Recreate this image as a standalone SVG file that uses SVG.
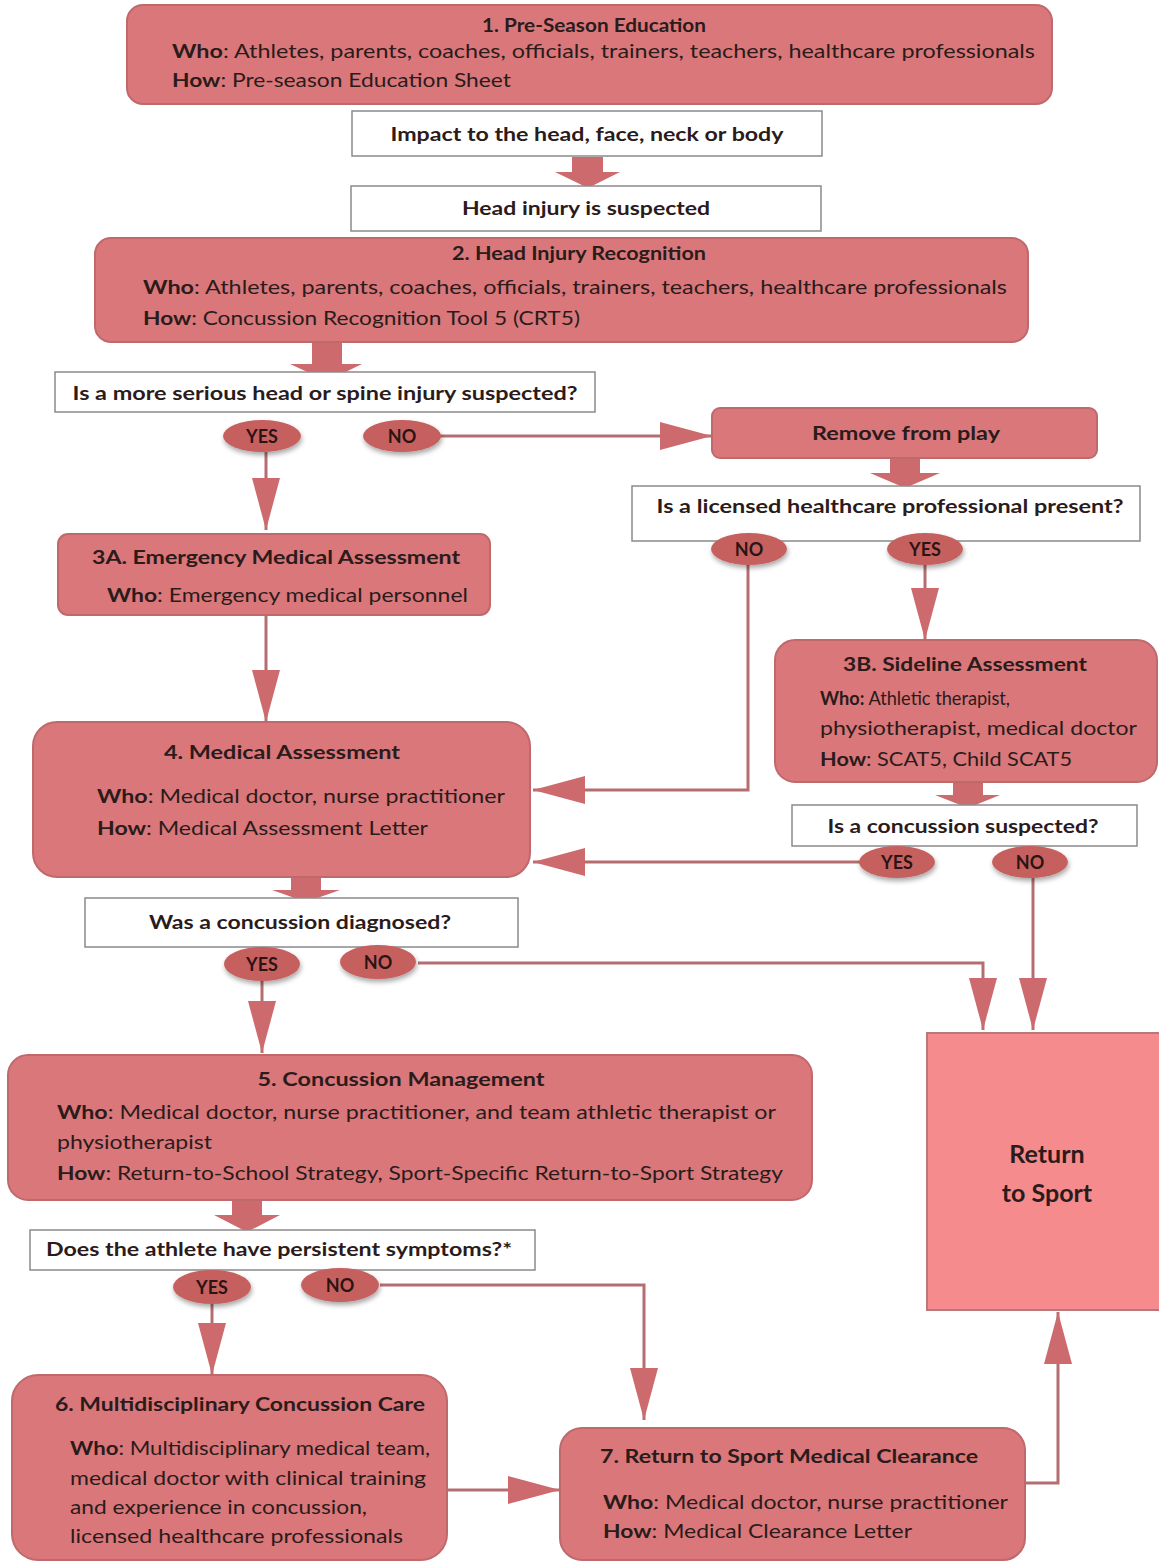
<svg xmlns="http://www.w3.org/2000/svg" width="1159" height="1564" viewBox="0 0 1159 1564">
<defs>
<style>
.box{fill:#d9777a;stroke:#c0696c;stroke-width:2}
.q{fill:#ffffff;stroke:#8a8a8a;stroke-width:1.5}
.rts{fill:#f58b8c;stroke:#b8777a;stroke-width:2}
.lab{fill:#c6605f;filter:url(#sh)}
.blk{fill:#cd6a6d}
.ln{fill:none;stroke:#b56e70;stroke-width:3;marker-end:url(#ah)}
text{font-family:Lato,"Open Sans","Noto Sans",sans-serif;fill:#2b1b1b;dominant-baseline:central}
.t{font-size:19px;font-weight:bold;text-anchor:middle}
.tl{font-size:19px;font-weight:bold}
.b{font-size:19px}
.yn{font-size:18px;font-weight:bold;text-anchor:middle;fill:#2b1414}
.big{font-size:25px;font-weight:bold;text-anchor:middle}
</style>
<marker id="ah" viewBox="0 0 52 28" refX="52" refY="14" markerWidth="52" markerHeight="28" markerUnits="userSpaceOnUse" orient="auto">
<path d="M0,0 L52,14 L0,28 z" fill="#cd6a6d"/>
</marker>
<filter id="sh" x="-30%" y="-40%" width="160%" height="190%">
<feDropShadow dx="1" dy="3" stdDeviation="2.5" flood-color="#000" flood-opacity="0.35"/>
</filter>
</defs>
<rect width="1159" height="1564" fill="#ffffff"/>

<g id="connectors">
<path class="ln" d="M440 436 H712"/>
<path class="ln" d="M266 452 V530"/>
<path class="ln" d="M266 615 V722"/>
<path class="ln" d="M748 565 V790 H533"/>
<path class="ln" d="M925 565 V640"/>
<path class="ln" d="M860 862 H533"/>
<path class="ln" d="M1033 878 V1030"/>
<path class="ln" d="M418 963 H983 V1030"/>
<path class="ln" d="M262 980 V1053"/>
<path class="ln" d="M380 1285 H644 V1420"/>
<path class="ln" d="M212 1303 V1375"/>
<path class="ln" d="M447 1490 H560"/>
<path class="ln" d="M1025 1483 H1058 V1312"/>
<polygon class="blk" points="572,157 603,157 603,172 620,172 588,188 555,172 572,172"/>
<polygon class="blk" points="312,343 342,343 342,364 362,364 327,381 290,364 312,364"/>
<polygon class="blk" points="890,458 920,458 920,473 940,473 905,488 870,473 890,473"/>
<polygon class="blk" points="953,782 983,782 983,795 1000,795 968,808 935,795 953,795"/>
<polygon class="blk" points="291,877 321,877 321,890 340,890 306,902 272,890 291,890"/>
<polygon class="blk" points="232,1200 262,1200 262,1215 280,1215 247,1232 214,1215 232,1215"/>
</g>

<g id="n1">
<rect class="box" x="127" y="5" width="925" height="99" rx="16"/>
<text class="t" x="594" y="24" textLength="224" lengthAdjust="spacingAndGlyphs">1. Pre-Season Education</text>
<text class="b" x="172" y="50" textLength="863" lengthAdjust="spacingAndGlyphs"><tspan font-weight="bold">Who</tspan>: Athletes, parents, coaches, officials, trainers, teachers, healthcare professionals</text>
<text class="b" x="172" y="79" textLength="339" lengthAdjust="spacingAndGlyphs"><tspan font-weight="bold">How</tspan>: Pre-season Education Sheet</text>
</g>

<g id="impact">
<rect class="q" x="352" y="111" width="470" height="45"/>
<text class="t" x="587" y="133" textLength="393" lengthAdjust="spacingAndGlyphs">Impact to the head, face, neck or body</text>
</g>

<g id="suspected">
<rect class="q" x="351" y="186" width="470" height="45"/>
<text class="t" x="586" y="207" textLength="248" lengthAdjust="spacingAndGlyphs">Head injury is suspected</text>
</g>

<g id="n2">
<rect class="box" x="95" y="238" width="933" height="104" rx="16"/>
<text class="t" x="579" y="252" textLength="254" lengthAdjust="spacingAndGlyphs">2. Head Injury Recognition</text>
<text class="b" x="143" y="286" textLength="864" lengthAdjust="spacingAndGlyphs"><tspan font-weight="bold">Who</tspan>: Athletes, parents, coaches, officials, trainers, teachers, healthcare professionals</text>
<text class="b" x="143" y="317" textLength="437" lengthAdjust="spacingAndGlyphs"><tspan font-weight="bold">How</tspan>: Concussion Recognition Tool 5 (CRT5)</text>
</g>

<g id="q1">
<rect class="q" x="55" y="372" width="540" height="40"/>
<text class="t" x="325" y="392" textLength="505" lengthAdjust="spacingAndGlyphs">Is a more serious head or spine injury suspected?</text>
</g>
<g id="q1-yes"><ellipse class="lab" cx="262" cy="436" rx="39" ry="16"/><text class="yn" x="262" y="436">YES</text></g>
<g id="q1-no"><ellipse class="lab" cx="402" cy="436" rx="39" ry="16"/><text class="yn" x="402" y="436">NO</text></g>

<g id="remove">
<rect class="box" x="712" y="408" width="385" height="50" rx="8"/>
<text class="t" x="906" y="432" textLength="188" lengthAdjust="spacingAndGlyphs">Remove from play</text>
</g>

<g id="q2">
<rect class="q" x="632" y="486" width="508" height="55"/>
<text class="t" x="890" y="505" textLength="467" lengthAdjust="spacingAndGlyphs">Is a licensed healthcare professional present?</text>
</g>
<g id="q2-no"><ellipse class="lab" cx="749" cy="549" rx="38" ry="16"/><text class="yn" x="749" y="549">NO</text></g>
<g id="q2-yes"><ellipse class="lab" cx="925" cy="549" rx="38" ry="16"/><text class="yn" x="925" y="549">YES</text></g>

<g id="n3a">
<rect class="box" x="58" y="534" width="432" height="81" rx="10"/>
<text class="t" x="276" y="556" textLength="368" lengthAdjust="spacingAndGlyphs">3A. Emergency Medical Assessment</text>
<text class="b" x="107" y="594" textLength="361" lengthAdjust="spacingAndGlyphs"><tspan font-weight="bold">Who</tspan>: Emergency medical personnel</text>
</g>

<g id="n4">
<rect class="box" x="33" y="722" width="497" height="155" rx="24"/>
<text class="t" x="282" y="751" textLength="236" lengthAdjust="spacingAndGlyphs">4. Medical Assessment</text>
<text class="b" x="97" y="795" textLength="408" lengthAdjust="spacingAndGlyphs"><tspan font-weight="bold">Who</tspan>: Medical doctor, nurse practitioner</text>
<text class="b" x="97" y="827" textLength="331" lengthAdjust="spacingAndGlyphs"><tspan font-weight="bold">How</tspan>: Medical Assessment Letter</text>
</g>

<g id="n3b">
<rect class="box" x="775" y="640" width="382" height="142" rx="20"/>
<text class="t" x="965" y="663" textLength="244" lengthAdjust="spacingAndGlyphs">3B. Sideline Assessment</text>
<text class="b" x="820" y="697" textLength="190" lengthAdjust="spacingAndGlyphs"><tspan font-weight="bold">Who:</tspan> Athletic therapist,</text>
<text class="b" x="820" y="727" textLength="317" lengthAdjust="spacingAndGlyphs">physiotherapist, medical doctor</text>
<text class="b" x="820" y="758" textLength="252" lengthAdjust="spacingAndGlyphs"><tspan font-weight="bold">How</tspan>: SCAT5, Child SCAT5</text>
</g>

<g id="q3">
<rect class="q" x="792" y="805" width="345" height="41"/>
<text class="t" x="963" y="825" textLength="271" lengthAdjust="spacingAndGlyphs">Is a concussion suspected?</text>
</g>
<g id="q3-yes"><ellipse class="lab" cx="897" cy="862" rx="38" ry="16"/><text class="yn" x="897" y="862">YES</text></g>
<g id="q3-no"><ellipse class="lab" cx="1030" cy="862" rx="38" ry="16"/><text class="yn" x="1030" y="862">NO</text></g>

<g id="q4">
<rect class="q" x="85" y="898" width="433" height="49"/>
<text class="t" x="300" y="921" textLength="302" lengthAdjust="spacingAndGlyphs">Was a concussion diagnosed?</text>
</g>
<g id="q4-yes"><ellipse class="lab" cx="262" cy="964" rx="38" ry="17"/><text class="yn" x="262" y="964">YES</text></g>
<g id="q4-no"><ellipse class="lab" cx="378" cy="962" rx="38" ry="17"/><text class="yn" x="378" y="962">NO</text></g>

<g id="rts">
<rect class="rts" x="927" y="1033" width="234" height="277"/>
<text class="big" x="1047" y="1153">Return</text>
<text class="big" x="1047" y="1192">to Sport</text>
</g>

<g id="n5">
<rect class="box" x="8" y="1055" width="804" height="145" rx="20"/>
<text class="t" x="401" y="1078" textLength="287" lengthAdjust="spacingAndGlyphs">5. Concussion Management</text>
<text class="b" x="57" y="1111" textLength="719" lengthAdjust="spacingAndGlyphs"><tspan font-weight="bold">Who</tspan>: Medical doctor, nurse practitioner, and team athletic therapist or</text>
<text class="b" x="57" y="1141" textLength="155" lengthAdjust="spacingAndGlyphs">physiotherapist</text>
<text class="b" x="57" y="1172" textLength="726" lengthAdjust="spacingAndGlyphs"><tspan font-weight="bold">How</tspan>: Return-to-School Strategy, Sport-Specific Return-to-Sport Strategy</text>
</g>

<g id="q5">
<rect class="q" x="30" y="1230" width="505" height="40"/>
<text class="tl" x="46" y="1248" textLength="466" lengthAdjust="spacingAndGlyphs">Does the athlete have persistent symptoms?*</text>
</g>
<g id="q5-yes"><ellipse class="lab" cx="212" cy="1287" rx="39" ry="17"/><text class="yn" x="212" y="1287">YES</text></g>
<g id="q5-no"><ellipse class="lab" cx="340" cy="1285" rx="39" ry="17"/><text class="yn" x="340" y="1285">NO</text></g>

<g id="n6">
<rect class="box" x="12" y="1375" width="435" height="185" rx="26"/>
<text class="tl" x="55" y="1403" textLength="370" lengthAdjust="spacingAndGlyphs">6. Multidisciplinary Concussion Care</text>
<text class="b" x="70" y="1447" textLength="360" lengthAdjust="spacingAndGlyphs"><tspan font-weight="bold">Who</tspan>: Multidisciplinary medical team,</text>
<text class="b" x="70" y="1477" textLength="356" lengthAdjust="spacingAndGlyphs">medical doctor with clinical training</text>
<text class="b" x="70" y="1506" textLength="297" lengthAdjust="spacingAndGlyphs">and experience in concussion,</text>
<text class="b" x="70" y="1535" textLength="333" lengthAdjust="spacingAndGlyphs">licensed healthcare professionals</text>
</g>

<g id="n7">
<rect class="box" x="560" y="1428" width="465" height="132" rx="22"/>
<text class="tl" x="600" y="1455" textLength="378" lengthAdjust="spacingAndGlyphs">7. Return to Sport Medical Clearance</text>
<text class="b" x="603" y="1501" textLength="405" lengthAdjust="spacingAndGlyphs"><tspan font-weight="bold">Who</tspan>: Medical doctor, nurse practitioner</text>
<text class="b" x="603" y="1530" textLength="309" lengthAdjust="spacingAndGlyphs"><tspan font-weight="bold">How</tspan>: Medical Clearance Letter</text>
</g>
</svg>
